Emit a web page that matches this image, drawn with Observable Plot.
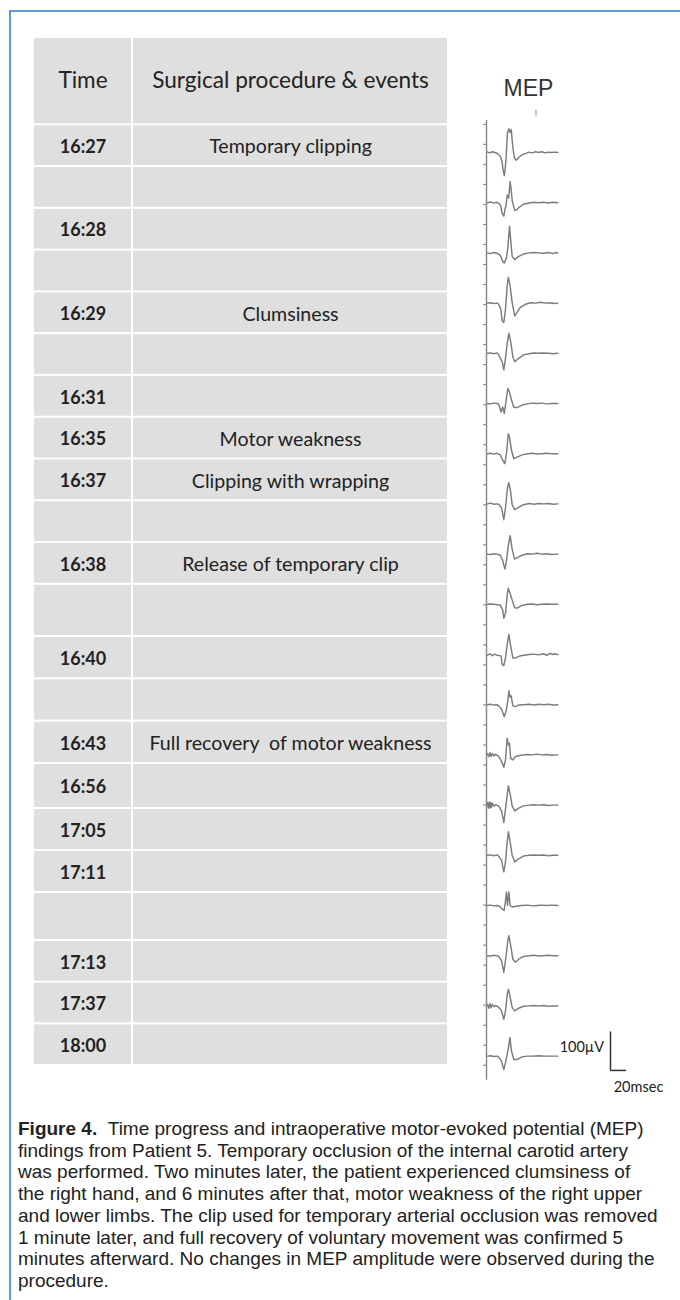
<!DOCTYPE html>
<html><head><meta charset="utf-8">
<script src="https://cdn.jsdelivr.net/npm/d3@7"></script>
<script src="https://cdn.jsdelivr.net/npm/@observablehq/plot@0.6"></script>
<style>
html,body{margin:0;padding:0;background:#fff;}
#fig{position:relative;width:680px;height:1300px;overflow:hidden;}
#frame{position:absolute;left:9px;top:10px;right:0;bottom:0;border-left:2px solid #5b9bd5;border-top:2px solid #5b9bd5;}
.layer{position:absolute;left:0;top:0;}
#caption{position:absolute;left:18px;top:1118px;font-family:"Liberation Sans",Arial,sans-serif;font-size:19px;line-height:21.7px;color:#222;white-space:nowrap;}
#caption b{font-weight:bold;}
</style></head>
<body>
<div id="fig">
<div id="frame"></div>
<div id="table" class="layer"></div>
<div id="mep" class="layer"></div>
<div id="caption"></div>
</div>
<script>
// ---------- data ----------
const headers = ["Time", "Surgical procedure & events"];
const times = ["16:27","","16:28","","16:29","","16:31","16:35","16:37","","16:38","","16:40","","16:43","16:56","17:05","17:11","","17:13","17:37","18:00"];
const events = ["Temporary clipping","","","","Clumsiness","","","Motor weakness","Clipping with wrapping","","Release of temporary clip","","","","Full recovery  of motor weakness","","","","","","",""];

// MEP traces: [time (ms), amplitude (µV)] pairs, one list per recording, top to bottom
const mepTraces = [
  [[0,1],[3,-1],[6,2],[9,0],[12,-2],[14,-6],[16,-10],[18,-22],[19.5,-45],[21,-60],[22,-45],[23,-22],[24,15],[25,52],[26.7,62],[27.5,55],[28.3,52],[29.6,60],[30.5,40],[31.7,13],[33,-5],[34,-15],[36,-20],[39,-13],[43,-6],[47.5,-3],[52,1],[56,-1],[60,2],[64,0],[68,2],[72,-1],[76,1],[80,0],[84,1],[88,0]],
  [[0,0],[4,2],[8,-1],[12,1],[15,-3],[16.5,-8],[18,-26],[20.4,-35],[22,-15],[23,-10],[24.6,20],[25.5,18],[26.5,12],[28.3,55],[29.5,35],[31,4],[34,-20],[36,-19],[39,-13],[45,-4],[52,-1],[58,1],[64,0],[70,1],[76,-1],[82,1],[88,0]],
  [[0,0],[4,-2],[8,1],[12,-1],[16,-6],[19,-22],[21,-26],[23.7,-13],[25.4,13],[27.5,69],[28.75,39],[30.8,-9],[34,-17],[39,-9],[45,-3],[52,0],[58,1],[64,0],[70,-1],[76,1],[82,-2],[85,1],[88,0]],
  [[0,0],[4,1],[8,-1],[12,0],[14,-3],[16.7,-16],[18.3,-46],[20.4,-50],[22.5,-16],[24.6,45],[26,67],[28,49],[30.8,2],[34,-33],[37,-24],[41,-11],[47.5,-3],[54,1],[60,0],[66,2],[72,0],[78,1],[84,-1],[88,0]],
  [[0,0],[4,1],[8,-1],[12,1],[14,-4],[18.3,-22],[20.4,-43],[22.5,-13],[24.6,26],[26.7,52],[29,30],[31.7,-9],[34,-22],[39,-13],[45,-4],[52,-1],[58,1],[64,0],[70,1],[76,0],[82,-1],[88,0]],
  [[0,0],[4,-1],[8,1],[12,0],[14,-2],[17,-22],[19,-9],[21,-26],[23.3,9],[25.4,39],[26.5,34],[27.5,30],[30,9],[32.9,-9],[37,-11],[43.3,-4],[50,-1],[56,1],[62,0],[68,1],[74,-1],[80,0],[88,0]],
  [[0,0],[4,1],[8,-1],[12,1],[16,-3],[19,-17],[21.7,-26],[23.7,0],[26,52],[27.5,43],[30,9],[32.9,-13],[37,-9],[43.3,-3],[50,0],[56,1],[62,-1],[68,0],[74,1],[80,0],[88,0]],
  [[0,0],[4,2],[8,-1],[12,0],[14,-1],[17.5,-10],[20.4,-41],[22.5,-10],[25,42],[26.7,55],[28.75,33],[30.8,-2],[34,-15],[39,-9],[45,-2],[52,1],[58,-1],[64,1],[70,0],[76,1],[82,-1],[88,0]],
  [[0,0],[4,-1],[8,1],[12,0],[16,-3],[19,-17],[21.7,-39],[23.7,-17],[26,22],[28.3,48],[30.8,13],[33.75,-13],[37,-9],[43,-3],[50,1],[56,0],[62,2],[68,0],[74,1],[80,-1],[88,0]],
  [[0,0],[4,1],[8,0],[12,-1],[16,-2],[19,-15],[20.4,-36],[22.5,-23],[24.6,24],[26,42],[28.3,29],[30.8,11],[34,-9],[37,-10],[43,-3],[50,0],[56,1],[62,-1],[68,0],[74,1],[80,0],[88,0]],
  [[0,-2],[3,2],[6,-3],[9,1],[12,-2],[15,-3],[17,-4],[18.3,-26],[20.4,-29],[22.5,-9],[24.6,26],[26.7,52],[29,22],[31.7,-9],[35,-9],[40,-4],[46,-2],[52,0],[58,1],[64,-1],[70,2],[74,-2],[78,3],[81,0],[84,2],[88,0]],
  [[0,0],[4,1],[8,-1],[12,0],[14,-3],[17.5,-11],[21,-31],[23.3,-16],[25.4,10],[26.7,36],[28.3,19],[29.6,23],[31.7,-3],[35,-5],[39,-1],[45,0],[52,1],[58,-1],[64,1],[70,0],[76,1],[82,-1],[88,0]],
  [[0,3],[1.5,-5],[3,6],[4.5,-4],[6,4],[8,-3],[10,2],[14,-4],[17.5,-17],[20.4,-32],[22.5,-13],[24.6,43],[26.2,26],[27.5,30],[29,-9],[31.7,-13],[35,-4],[42,-1],[50,1],[56,0],[62,2],[68,0],[74,1],[80,-1],[88,0]],
  [[0,6],[1,-8],[2,8],[3,-7],[4,7],[5,-6],[6,5],[8,-3],[10,1],[14,-2],[17.5,-15],[20.4,-45],[23.3,3],[26,50],[28.3,29],[30.8,-2],[34,-15],[39,-8],[45,-2],[52,0],[58,1],[64,0],[70,1],[76,-1],[82,0],[88,0]],
  [[0,0],[4,1],[8,-1],[12,1],[14,-2],[17.5,-13],[20.4,-43],[22.5,-17],[24.6,35],[26.2,61],[28.3,35],[30.8,0],[34,-17],[39,-9],[45,-2],[52,0],[58,1],[64,0],[70,1],[76,-1],[82,0],[88,0]],
  [[0,0],[4,1],[8,-1],[12,0],[15,-2],[18.3,-9],[20.8,-13],[22.5,13],[23.7,35],[25,0],[26.7,35],[28.3,0],[31,-4],[36,-2],[42,0],[50,1],[56,-1],[62,0],[68,1],[74,0],[80,1],[88,0]],
  [[0,0],[4,-1],[8,1],[12,0],[14,-2],[17.5,-13],[20.4,-43],[23.3,0],[25.4,39],[26.7,52],[29,26],[31.7,-9],[35,-17],[39,-9],[45,-2],[52,0],[58,1],[64,-1],[70,0],[76,1],[82,0],[88,0]],
  [[0,4],[1.5,-6],[3,6],[4.5,-5],[6,4],[8,-2],[10,1],[14,-3],[17.5,-13],[20.4,-35],[22.5,-13],[25,35],[26.2,43],[28,26],[30.8,-4],[34,-13],[39,-6],[45,-1],[52,0],[58,1],[64,0],[70,1],[76,-1],[82,0],[88,0]],
  [[0,0],[4,1],[8,-1],[12,0],[14,-3],[17.5,-13],[20.4,-35],[22.5,-17],[25,9],[26.2,22],[28,48],[30,13],[32.9,-9],[37,-9],[43,-2],[50,0],[56,0],[64,1],[72,0],[80,0],[88,0]]
];
const mepLabel = "MEP";
const scaleBarLabels = {amp: "100µV", time: "20msec"};
const scaleBarSize = {amp: 100, time: 20};

const captionLines = [
  ["Figure 4.", "  Time progress and intraoperative motor-evoked potential (MEP)"],
  ["", "findings from Patient 5. Temporary occlusion of the internal carotid artery"],
  ["", "was performed. Two minutes later, the patient experienced clumsiness of"],
  ["", "the right hand, and 6 minutes after that, motor weakness of the right upper"],
  ["", "and lower limbs. The clip used for temporary arterial occlusion was removed"],
  ["", "1 minute later, and full recovery of voluntary movement was confirmed 5"],
  ["", "minutes afterward. No changes in MEP amplitude were observed during the"],
  ["", "procedure."]
];

// ---------- table ----------
const timeColEnd = 0.2386;      // fraction of table width taken by the Time column
const headerRows = 2;           // header height in row units
const rowsData = times.map((t, i) => ({i, time: t, event: events[i]}));
const headerData = [
  {label: headers[0], x1: 0, x2: timeColEnd},
  {label: headers[1], x1: timeColEnd, x2: 1}
];
const cellFill = "#dfdfdf";
const tableFont = "Lato, 'Open Sans', sans-serif";
// piecewise row scale: a few rows of the original table are taller than the rest
const rowScale = {
  domain: [-2, 0, 11, 12, 15, 16, 18, 19, 22],
  range: [37, 124.3, 583.8, 636, 763, 808, 892, 940, 1065]
};

const tablePlot = Plot.plot({
  width: 680, height: 1100, margin: 0,
  style: {background: "transparent", overflow: "visible"},
  x: {domain: [0, 1], range: [33, 448], axis: null},
  y: {type: "linear", domain: rowScale.domain, range: rowScale.range, axis: null},
  marks: [
    Plot.rect(headerData, {x1: "x1", x2: "x2", y1: -headerRows, y2: 0, fill: cellFill, inset: 1}),
    Plot.rect(rowsData, {x1: 0, x2: timeColEnd, y1: "i", y2: d => d.i + 1, fill: cellFill, inset: 1}),
    Plot.rect(rowsData, {x1: timeColEnd, x2: 1, y1: "i", y2: d => d.i + 1, fill: cellFill, inset: 1}),
    Plot.text(headerData, {x: d => (d.x1 + d.x2) / 2, y: -headerRows / 2, text: "label", fontSize: 22.6, fill: "#222", fontFamily: tableFont}),
    Plot.text(rowsData, {x: timeColEnd / 2, y: d => d.i + 0.5, dy: 1.5, text: "time", fontSize: 18, fontWeight: "bold", fill: "#222", fontFamily: tableFont}),
    Plot.text(rowsData, {x: (timeColEnd + 1) / 2, y: d => d.i + 0.5, dy: 1.5, text: "event", fontSize: 19.6, fill: "#222", fontFamily: tableFont})
  ]
});
document.getElementById("table").appendChild(tablePlot);

// ---------- MEP traces ----------
const traceGap = 130.4; // µV between stacked baselines
const points = mepTraces.flatMap((tr, k) => tr.map(([t, v]) => ({trace: k, t, y: v - k * traceGap})));
const n = mepTraces.length;
const axisX = -1.25;
const axisTop = 83, axisBottom = -2410;
const axisTicks = d3.range(axisTop - 10, axisBottom, -52);
const bar = {t: 153.75, v: -2384.4};

const mepPlot = Plot.plot({
  width: 680, height: 1100, margin: 0,
  style: {background: "transparent", overflow: "visible"},
  x: {domain: [0, 88], range: [487, 557.4], axis: null},
  y: {domain: [0, -(n - 1) * traceGap], range: [152, 152 + (n - 1) * 50.2], axis: null},
  marks: [
    Plot.ruleX([axisX], {y1: axisTop, y2: axisBottom, stroke: "#8a8a8a", strokeWidth: 1.5}),
    Plot.ruleY(axisTicks, {x1: axisX - 3.5, x2: axisX, stroke: "#8a8a8a", strokeWidth: 1.2}),
    Plot.ruleX([60.6], {y1: 109, y2: 95, stroke: "#999", strokeWidth: 1.2}),
    Plot.line(points, {x: "t", y: "y", z: "trace", stroke: "#7c7c7c", strokeWidth: 1.45, curve: "linear"}),
    Plot.text([mepLabel], {x: 51.25, y: 166, text: d => d, fontSize: 23, fill: "#333", fontFamily: "'Liberation Sans', Arial, sans-serif"}),
    Plot.ruleX([bar], {x: "t", y1: "v", y2: d => d.v + scaleBarSize.amp, stroke: "#333", strokeWidth: 1.5}),
    Plot.ruleY([bar], {y: "v", x1: "t", x2: d => d.t + scaleBarSize.time, stroke: "#333", strokeWidth: 1.5}),
    Plot.text([bar], {x: d => d.t - 8, y: d => d.v + 60, text: () => scaleBarLabels.amp, textAnchor: "end", fontSize: 14.5, fill: "#222", fontFamily: tableFont}),
    Plot.text([bar], {x: d => d.t + 35, y: d => d.v - 44, text: () => scaleBarLabels.time, fontSize: 14.5, fill: "#222", fontFamily: tableFont})
  ]
});
document.getElementById("mep").appendChild(mepPlot);

// ---------- caption ----------
const cap = document.getElementById("caption");
captionLines.forEach(([bold, rest]) => {
  const line = document.createElement("div");
  if (bold) { const b = document.createElement("b"); b.textContent = bold; line.appendChild(b); }
  line.appendChild(document.createTextNode(rest.replace(/^  /, "\u00a0\u00a0")));
  cap.appendChild(line);
});
</script>
</body></html>
